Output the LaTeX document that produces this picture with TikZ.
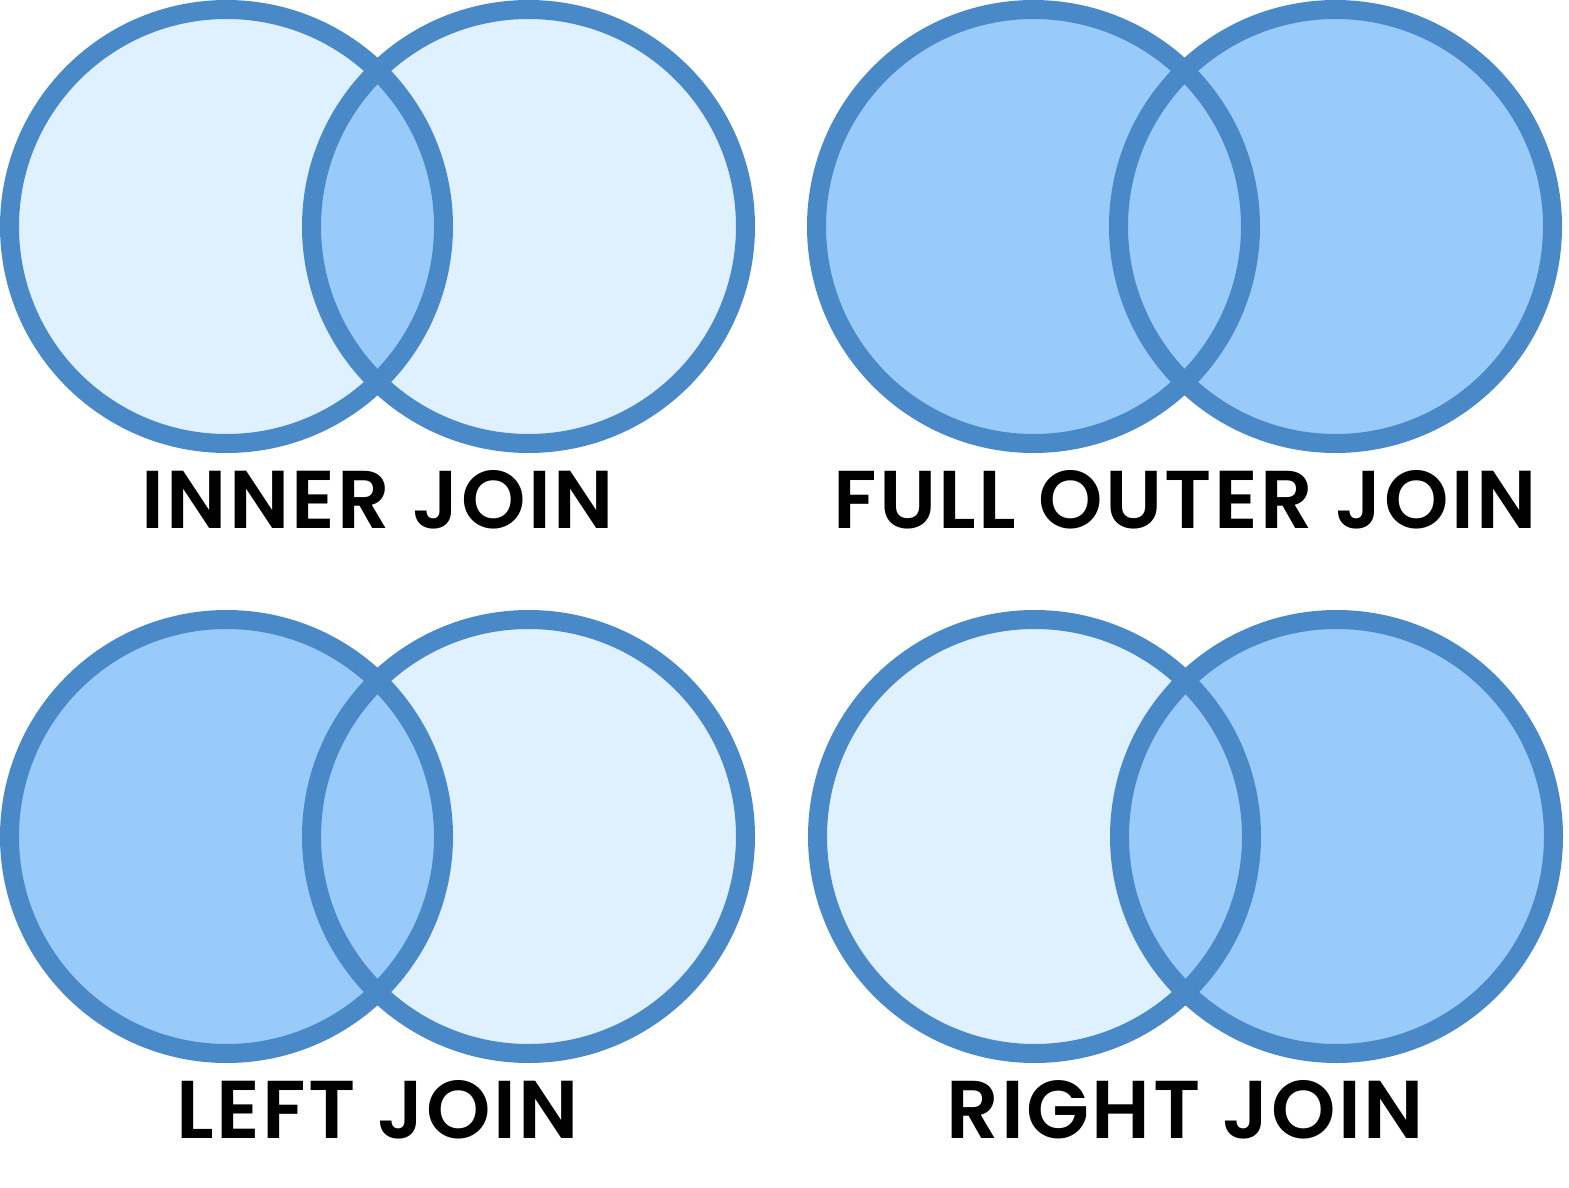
\documentclass[tikz,border=0pt]{standalone}
\usepackage{fontspec}
\newfontfamily\lblfont{Poppins SemiBold}[LetterSpace=3]
\definecolor{ringblue}{HTML}{4A89C7}
\definecolor{lightfill}{HTML}{DFF0FE}
\definecolor{darkfill}{HTML}{99CBFA}
\tikzset{
  ring/.style={draw=ringblue, line width=19pt},
  lbl/.style={font=\lblfont\fontsize{82}{90}\selectfont, anchor=base, inner sep=0pt, text=black}
}
\begin{document}
\begin{tikzpicture}[x=1pt,y=-1pt]
\useasboundingbox[fill=white] (0,0) rectangle (1569,1188);
% centers
\coordinate (aL) at (226.5,226.5); \coordinate (aR) at (528.5,226.5);
\coordinate (bL) at (1033.5,226.5); \coordinate (bR) at (1335.5,226.5);
\coordinate (cL) at (226.5,836.5); \coordinate (cR) at (528.5,836.5);
\coordinate (dL) at (1034.5,836.5); \coordinate (dR) at (1336.5,836.5);
% INNER JOIN
\fill[lightfill] (aL) circle (217pt) (aR) circle (217pt);
\begin{scope}\clip (aL) circle (217pt); \fill[darkfill] (aR) circle (217pt);\end{scope}
\draw[ring] (aL) circle (217pt) (aR) circle (217pt);
% FULL OUTER JOIN
\fill[darkfill] (bL) circle (217pt) (bR) circle (217pt);
\draw[ring] (bL) circle (217pt) (bR) circle (217pt);
% LEFT JOIN
\fill[lightfill] (cR) circle (217pt);
\fill[darkfill] (cL) circle (217pt);
\draw[ring] (cL) circle (217pt) (cR) circle (217pt);
% RIGHT JOIN
\fill[lightfill] (dL) circle (217pt);
\fill[darkfill] (dR) circle (217pt);
\draw[ring] (dL) circle (217pt) (dR) circle (217pt);
% labels
\node[lbl] (t1) at (377.5,528) {INNER JOIN};
\node[lbl] (t2) at (1185,528) {FULL OUTER JOIN};
\node[lbl] (t3) at (377.5,1138) {LEFT JOIN};
\node[lbl] (t4) at (1185,1138) {RIGHT JOIN};
\end{tikzpicture}
\end{document}
